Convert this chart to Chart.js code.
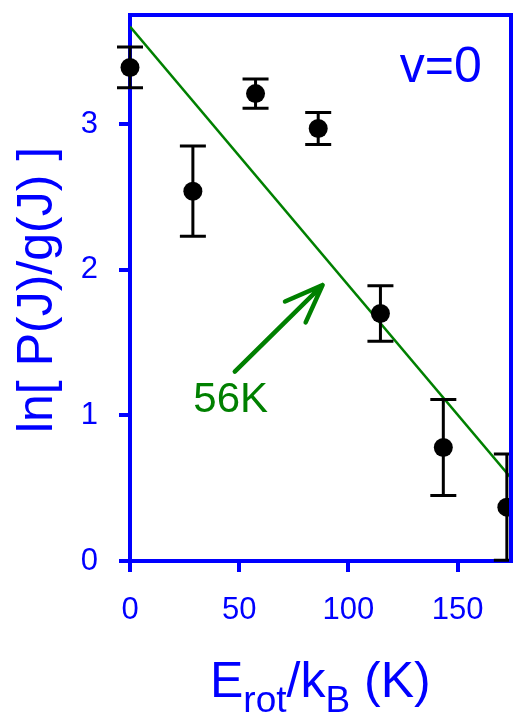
<!DOCTYPE html>
<html>
<head>
<meta charset="utf-8">
<script src="https://cdn.jsdelivr.net/npm/chart.js@4.4.1/dist/chart.umd.min.js"></script>
<style>
  html, body { margin: 0; padding: 0; background: #fff; overflow: hidden; }
  canvas { display: block; }
</style>
</head>
<body>
<canvas id="chart" width="513" height="715"></canvas>
<script>
// Rotational energy of each J level (K) and ln[P(J)/g(J)] with its error
const rotEnergy    = [0, 28.8, 57.5, 86.2, 114.7, 143.5, 172.6];
const lnPopulation = [3.39, 2.54, 3.21, 2.97, 1.70, 0.78, 0.37];
const lnError      = [0.14, 0.31, 0.10, 0.11, 0.19, 0.33, 0.365];

// Boltzmann fit line (T = 56 K), given by its two end points
const fitEnergy = [0, 174.5];
const fitLn     = [3.67, 0.57];

// Tick labels
const xTicks = [0, 50, 100, 150];
const yTicks = [0, 1, 2, 3];

// Text labels
const fitLabel   = '56K';
const stateLabel = 'v=0';

const FONT = "'Liberation Sans', Arial, Helvetica, sans-serif";
const BLUE = '#0000ff';
const GREEN = '#008000';

// Error bars, drawn after the fit line and before the markers
const errorBars = {
  id: 'errorBars',
  afterDatasetDraw(chart, args) {
    if (args.index !== 1) return;
    const { ctx, scales: { x, y } } = chart;
    ctx.save();
    ctx.strokeStyle = '#000';
    ctx.lineWidth = 3;
    rotEnergy.forEach((e, i) => {
      const px = x.getPixelForValue(e);
      const top = y.getPixelForValue(lnPopulation[i] + lnError[i]);
      const bot = y.getPixelForValue(lnPopulation[i] - lnError[i]);
      ctx.beginPath();
      ctx.moveTo(px, top); ctx.lineTo(px, bot);
      ctx.moveTo(px - 13, top); ctx.lineTo(px + 13, top);
      ctx.moveTo(px - 13, bot); ctx.lineTo(px + 13, bot);
      ctx.stroke();
    });
    ctx.restore();
  }
};

// Top and right sides of the frame, arrow, labels and axis titles
const decorations = {
  id: 'decorations',
  afterDatasetsDraw(chart) {
    const { ctx, chartArea: a, scales: { x, y } } = chart;
    ctx.save();

    // frame (top + right)
    ctx.strokeStyle = BLUE;
    ctx.lineWidth = 4;
    ctx.beginPath();
    ctx.moveTo(a.left - 2, a.top);
    ctx.lineTo(a.right, a.top);
    ctx.lineTo(a.right, a.bottom + 2);
    ctx.stroke();

    // arrow pointing at the fit line
    const x0 = x.getPixelForValue(48.0), y0 = y.getPixelForValue(1.30);
    const x1 = x.getPixelForValue(88.2), y1 = y.getPixelForValue(1.895);
    const ang = Math.atan2(y1 - y0, x1 - x0);
    const head = 41, spread = 21 * Math.PI / 180;
    ctx.strokeStyle = GREEN;
    ctx.lineWidth = 4.5;
    ctx.lineCap = 'round';
    ctx.lineJoin = 'round';
    ctx.beginPath();
    ctx.moveTo(x0, y0); ctx.lineTo(x1, y1);
    ctx.moveTo(x1 - head * Math.cos(ang - spread), y1 - head * Math.sin(ang - spread));
    ctx.lineTo(x1, y1);
    ctx.lineTo(x1 - head * Math.cos(ang + spread), y1 - head * Math.sin(ang + spread));
    ctx.stroke();

    ctx.textBaseline = 'alphabetic';
    ctx.textAlign = 'left';
    ctx.fillStyle = GREEN;
    ctx.font = `42px ${FONT}`;
    ctx.fillText(fitLabel, x.getPixelForValue(29.0), y.getPixelForValue(1.025));

    ctx.fillStyle = BLUE;
    ctx.font = `50px ${FONT}`;
    ctx.fillText(stateLabel, x.getPixelForValue(123.6), y.getPixelForValue(3.29));

    // x axis title: E_rot/k_B (K)
    const parts = [
      ['E', 50, 0], ['rot', 37, 15], ['/k', 50, 0], ['B', 37, 15], [' (K)', 50, 0]
    ];
    let tx = 210;
    const base = 697;
    parts.forEach(([t, s, dy]) => {
      ctx.font = `${s}px ${FONT}`;
      ctx.fillText(t, tx, base + dy);
      tx += ctx.measureText(t).width;
    });

    // y axis title
    ctx.save();
    ctx.translate(52, 290);
    ctx.rotate(-Math.PI / 2);
    ctx.textAlign = 'center';
    ctx.font = `50px ${FONT}`;
    ctx.fillText('ln[ P(J)/g(J) ]', 0, 0);
    ctx.restore();

    ctx.restore();
  }
};

const axisCommon = {
  type: 'linear',
  ticks: { color: BLUE, font: { family: FONT, size: 31 } },
  grid: { display: true, drawOnChartArea: false, drawTicks: true, tickLength: 11, color: BLUE, lineWidth: 4 },
  border: { display: true, color: BLUE, width: 4 }
};

new Chart(document.getElementById('chart'), {
  type: 'scatter',
  data: {
    datasets: [
      {
        data: rotEnergy.map((e, i) => ({ x: e, y: lnPopulation[i] })),
        pointRadius: 9.5,
        pointBackgroundColor: '#000',
        pointBorderColor: '#000',
        pointBorderWidth: 0,
        showLine: false,
        clip: false
      },
      {
        data: fitEnergy.map((e, i) => ({ x: e, y: fitLn[i] })),
        showLine: true,
        borderColor: GREEN,
        borderWidth: 2.5,
        pointRadius: 0,
        fill: false
      }
    ]
  },
  options: {
    responsive: false,
    animation: false,
    devicePixelRatio: 1,
    layout: { autoPadding: false, padding: { top: 15, right: 2, left: 0, bottom: 0 } },
    plugins: { legend: { display: false }, tooltip: { enabled: false } },
    scales: {
      x: {
        ...axisCommon,
        min: 0, max: 174.5,
        ticks: { ...axisCommon.ticks, padding: 20 },
        afterBuildTicks: s => { s.ticks = xTicks.map(v => ({ value: v })); },
        afterFit: s => { s.height = 154; s.paddingLeft = 0; s.paddingRight = 0; }
      },
      y: {
        ...axisCommon,
        min: 0, max: 3.75,
        ticks: { ...axisCommon.ticks, padding: 21 },
        afterBuildTicks: s => { s.ticks = yTicks.map(v => ({ value: v })); },
        afterFit: s => { s.width = 130; s.paddingTop = 0; s.paddingBottom = 0; }
      }
    }
  },
  plugins: [errorBars, decorations]
});
</script>
</body>
</html>
